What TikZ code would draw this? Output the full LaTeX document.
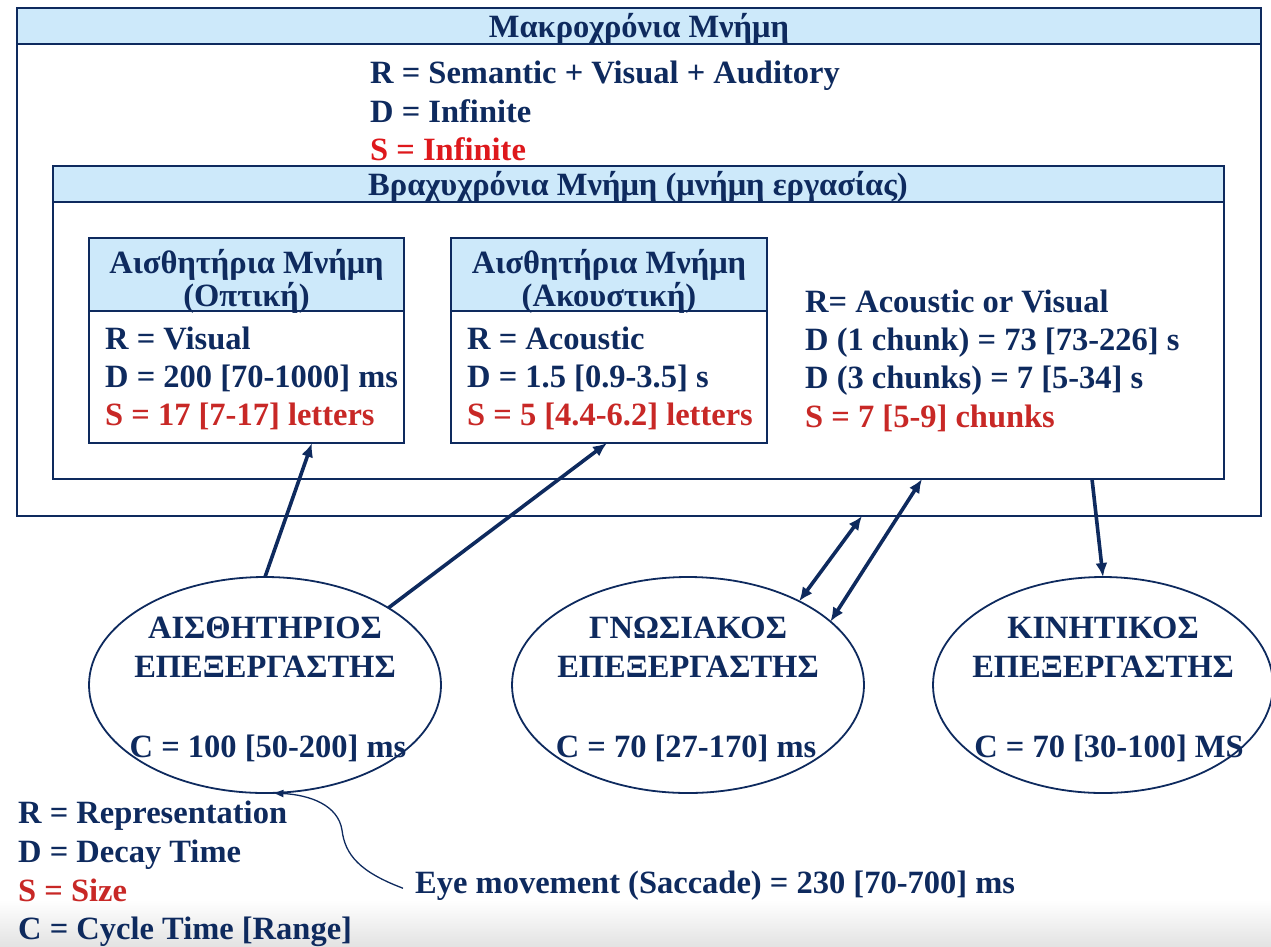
\documentclass[tikz,border=0pt]{standalone}
\usepackage{fontspec}
\setmainfont{Liberation Serif}
\usetikzlibrary{shapes.geometric,arrows.meta,calc}
\definecolor{navy}{RGB}{14,42,94}
\definecolor{hdr}{RGB}{205,233,250}
\definecolor{redt}{RGB}{200,40,38}
\definecolor{redb}{RGB}{222,24,28}
\newcommand\myfs{\fontsize{32.5pt}{38pt}\selectfont\bfseries}
\begin{document}
\begin{tikzpicture}[x=1pt,y=-1pt,
  box/.style={draw=navy, line width=2.5pt, fill=white, inner sep=0pt, outer sep=0pt, anchor=north west},
  hdrbox/.style={box, fill=hdr},
  txt/.style={text=navy, font=\myfs, inner sep=0pt, anchor=base west},
  ctxt/.style={txt, anchor=base},
  redtxt/.style={txt, text=redt},
  proc/.style={ellipse, draw=navy, line width=1.8pt, minimum width=352pt, minimum height=216pt, inner sep=0pt, outer sep=0pt},
  arr/.style={draw=navy, line width=3.6pt, -{Latex[length=14pt,width=12pt]}},
  darr/.style={draw=navy, line width=3.6pt, {Latex[length=14pt,width=12pt]}-{Latex[length=14pt,width=12pt]}},
  carr/.style={draw=navy, line width=1.3pt, -{Latex[length=11pt,width=8pt]}}
]
\useasboundingbox (0,0) rectangle (1271,946);
\shade[top color=white, bottom color=gray!22] (0,900) rectangle (1271,946);

% long-term memory
\node[box, minimum width=1244pt, minimum height=508pt] (outer) at (17,8) {};
\node[hdrbox, minimum width=1244pt, minimum height=36pt] (outerh) at (17,8) {};
\node[ctxt] (outert) at (639,37) {Μακροχρόνια Μνήμη};
\node[txt] (lt1) at (370,83) {R = Semantic + Visual + Auditory};
\node[txt] (lt2) at (370,122) {D = Infinite};
\node[txt, text=redb] (lt3) at (370,160) {S = Infinite};

% short-term memory
\node[box, minimum width=1171pt, minimum height=313pt] (inner) at (53,166) {};
\node[hdrbox, minimum width=1171pt, minimum height=36pt] (innerh) at (53,166) {};
\node[ctxt] (innert) at (638,195) {Βραχυχρόνια Μνήμη (μνήμη εργασίας)};

% visual sensory memory
\node[box, minimum width=315pt, minimum height=205pt] (b1) at (89,238) {};
\node[hdrbox, minimum width=315pt, minimum height=73pt] (b1h) at (89,238) {};
\node[ctxt] (b1t1) at (246.5,273) {Αισθητήρια Μνήμη};
\node[ctxt] (b1t2) at (246.5,306) {(Οπτική)};
\node[txt] (b1r) at (105,349) {R = Visual};
\node[txt] (b1d) at (105,387) {D = 200 [70-1000] ms};
\node[redtxt] (b1s) at (105,425) {S = 17 [7-17] letters};

% acoustic sensory memory
\node[box, minimum width=316pt, minimum height=205pt] (b2) at (451,238) {};
\node[hdrbox, minimum width=316pt, minimum height=73pt] (b2h) at (451,238) {};
\node[ctxt] (b2t1) at (609,273) {Αισθητήρια Μνήμη};
\node[ctxt] (b2t2) at (609,306) {(Ακουστική)};
\node[txt] (b2r) at (467,349) {R = Acoustic};
\node[txt] (b2d) at (467,387) {D = 1.5 [0.9-3.5] s};
\node[redtxt] (b2s) at (467,425) {S = 5 [4.4-6.2] letters};

% working memory text
\node[txt] (w1) at (805,312) {R= Acoustic or Visual};
\node[txt] (w2) at (805,350) {D (1 chunk) = 73 [73-226] s};
\node[txt] (w3) at (805,388) {D (3 chunks) = 7 [5-34] s};
\node[redtxt] (w4) at (805,427) {S = 7 [5-9] chunks};

% processors
\node[proc] (e1) at (265,685) {};
\node[ctxt] (e1a) at (265,638) {ΑΙΣΘΗΤΗΡΙΟΣ};
\node[ctxt] (e1b) at (265,677) {ΕΠΕΞΕΡΓΑΣΤΗΣ};
\node[ctxt] (e1c) at (268,757) {C = 100 [50-200] ms};

\node[proc] (e2) at (688,685) {};
\node[ctxt] (e2a) at (688,638) {ΓΝΩΣΙΑΚΟΣ};
\node[ctxt] (e2b) at (688,677) {ΕΠΕΞΕΡΓΑΣΤΗΣ};
\node[ctxt] (e2c) at (686,757) {C = 70 [27-170] ms};

\node[proc, minimum width=340pt] (e3) at (1103,685) {};
\node[ctxt] (e3a) at (1103,638) {ΚΙΝΗΤΙΚΟΣ};
\node[ctxt] (e3b) at (1103,677) {ΕΠΕΞΕΡΓΑΣΤΗΣ};
\node[ctxt] (e3c) at (1109,757) {C = 70 [30-100] MS};

% legend
\node[txt] (lg1) at (18,823) {R = Representation};
\node[txt] (lg2) at (18,862) {D = Decay Time};
\node[redtxt] (lg3) at (18,901) {S = Size};
\node[txt] (lg4) at (18,939) {C = Cycle Time [Range]};
\node[txt] (eye) at (415,893) {Eye movement (Saccade) = 230 [70-700] ms};

% connectors
\draw[arr] (e1.north) -- ($(b1.south west)+(223,0)$);
\draw[arr] (e1.32) -- ($(b2.south west)+(156,0)$);
\draw[darr] (e2.37) -- ($(outer.south west)+(845,0)$);
\draw[darr] (e2.24) -- ($(inner.south west)+(869,0)$);
\draw[arr] ($(inner.south west)+(1039,0)$) -- (e3.north);
\draw[carr] ($(eye.west)+(-12,3)$) .. controls (360,872) and (345,855) .. (342,830)
  .. controls (338,805) and (310,795) .. (e1.-86);
\end{tikzpicture}
\end{document}
